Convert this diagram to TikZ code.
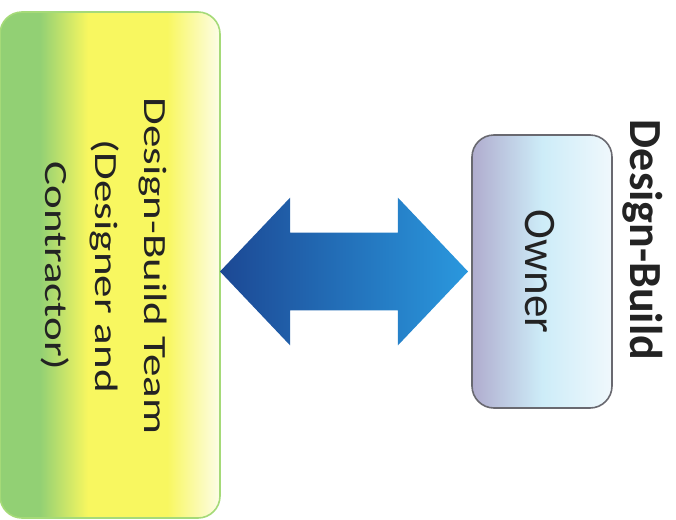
\documentclass[tikz,border=0pt]{standalone}
\usepackage{fontspec}
\setmainfont{Carlito}
\usetikzlibrary{shapes.arrows,calc}
\definecolor{teamgreen}{RGB}{146,208,116}
\definecolor{teamyellow}{RGB}{248,247,96}
\definecolor{teamwhite}{RGB}{253,253,232}
\definecolor{teamedge}{RGB}{165,218,120}
\definecolor{ownerlilac}{RGB}{176,172,206}
\definecolor{ownercyan}{RGB}{205,236,248}
\definecolor{ownerwhite}{RGB}{240,248,252}
\definecolor{owneredge}{RGB}{105,105,112}
\definecolor{linkdark}{RGB}{28,72,148}
\definecolor{linklight}{RGB}{42,152,222}
\definecolor{ink}{RGB}{35,35,35}
\pgfdeclarehorizontalshading{teamfade}{100bp}{color(0bp)=(teamgreen); color(34bp)=(teamgreen);
  color(45bp)=(teamyellow); color(63bp)=(teamyellow); color(75bp)=(teamwhite); color(100bp)=(teamwhite)}
\newcommand{\squash}[1]{\scalebox{1}[0.72]{#1}}
\tikzset{party/.style={rounded corners=11pt,line width=0.8pt},
  rotlabel/.style={rotate=-90,text=ink,inner sep=0pt,
    font=\fontsize{22.5}{34.7}\selectfont}}

\begin{document}
\begin{tikzpicture}[x=0.5pt,y=-0.5pt]
  \useasboundingbox (0,0) rectangle (676,520);

  \node[party, draw=teamedge, shading=teamfade,
        minimum width=110pt, minimum height=253pt] (team) at (110,265) {};
  \node[party, draw=owneredge, left color=ownerlilac, right color=ownerwhite,
        middle color=ownercyan, minimum width=70pt, minimum height=136.5pt] (owner) at (542,271.5) {};

  \node[double arrow, left color=linkdark, right color=linklight, inner xsep=0pt,
        inner ysep=19.25pt, double arrow head extend=17.5pt, double arrow tip angle=93,
        minimum height=124pt] (link) at (344,271.5) {};

  \node[rotlabel] (teamtext) at ($(team.center)+(-5,1)$)
    {\squash{\begin{tabular}{@{}c@{}}Design-Build Team\\(Designer and\\Contractor)\end{tabular}}};
  \node[rotlabel] (ownertext) at ($(owner.center)+(-2,0)$) {Owner};
  \node[rotlabel, font=\bfseries\fontsize{23}{28}\selectfont] (title) at (643,240) {Design-Build};
\end{tikzpicture}
\end{document}
